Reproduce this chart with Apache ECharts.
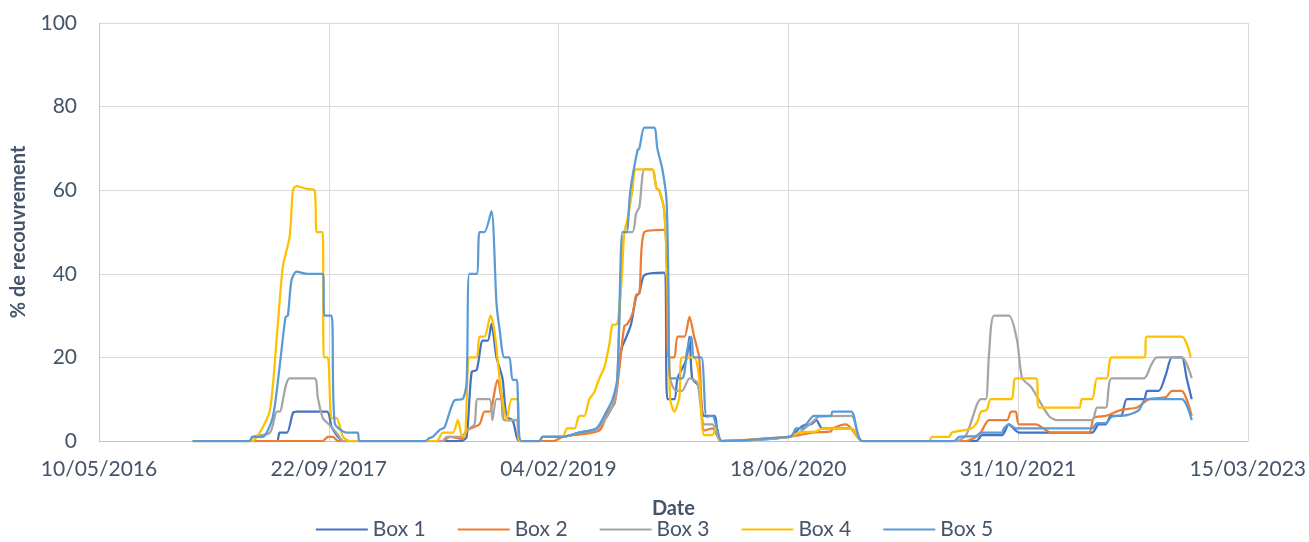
<!DOCTYPE html>
<html>
<head>
<meta charset="utf-8">
<script src="https://cdn.jsdelivr.net/npm/echarts@6/dist/echarts.min.js"></script>
<style>
  html, body { margin: 0; padding: 0; background: #fff; }
  #main { width: 1309px; height: 542px; }
</style>
</head>
<body>
<div id="main"></div>
<script>
const seriesNames = ["Box 1", "Box 2", "Box 3", "Box 4", "Box 5"];
const colors = ["#4472C4", "#ED7D31", "#A5A5A5", "#FFC000", "#5B9BD5"];

// x axis ticks (Excel date serials), y axis ticks
const xTicks = [42500, 43000, 43500, 44000, 44500, 45000];
const yTicks = [0, 20, 40, 60, 80, 100];

const box1 = [
  ["2016-11-30", 0], ["2017-06-01", 0], ["2017-06-07", 2], ["2017-06-23", 2], ["2017-07-06", 6.7], ["2017-07-14", 7],
  ["2017-09-18", 7], ["2017-09-28", 3.4], ["2017-10-12", 1], ["2017-10-23", 0],
  ["2018-07-08", 0], ["2018-07-19", 1], ["2018-07-30", 16.5], ["2018-08-10", 17], ["2018-08-23", 24], ["2018-09-03", 24],
  ["2018-09-11", 28], ["2018-09-22", 20], ["2018-10-05", 15], ["2018-10-14", 5.8], ["2018-10-27", 5], ["2018-11-11", 0],
  ["2018-12-25", 0], ["2018-12-31", 1], ["2019-02-02", 1],
  ["2019-02-13", 1], ["2019-03-21", 2], ["2019-04-30", 3], ["2019-05-21", 6], ["2019-06-06", 9.8], ["2019-06-21", 22],
  ["2019-07-02", 25], ["2019-07-12", 28], ["2019-07-23", 34.5], ["2019-07-30", 35.5], ["2019-08-10", 39.7], ["2019-09-22", 40.3],
  ["2019-09-29", 10], ["2019-10-14", 10], ["2019-10-21", 15], ["2019-11-09", 19.4], ["2019-11-16", 25], ["2019-11-22", 15],
  ["2019-12-07", 13], ["2019-12-18", 6], ["2020-01-09", 6], ["2020-01-24", 0],
  ["2020-06-20", 1], ["2020-07-12", 3], ["2020-07-23", 3.8], ["2020-08-07", 4], ["2020-08-18", 5], ["2020-08-31", 3],
  ["2020-11-02", 3], ["2020-11-26", 0],
  ["2021-08-01", 0], ["2021-08-14", 1.4], ["2021-09-26", 1.4], ["2021-10-11", 4], ["2021-11-02", 2], ["2022-04-10", 2],
  ["2022-04-25", 4], ["2022-05-10", 4], ["2022-05-21", 6], ["2022-06-12", 6], ["2022-06-25", 10], ["2022-08-01", 10],
  ["2022-08-08", 12], ["2022-09-02", 12], ["2022-09-18", 16], ["2022-10-01", 20], ["2022-10-22", 20], ["2022-11-02", 15],
  ["2022-11-13", 10]
];

const box2 = [
  ["2016-11-30", 0], ["2017-09-09", 0], ["2017-09-20", 1], ["2017-10-01", 1], ["2017-10-12", 0],
  ["2018-05-28", 0], ["2018-06-12", 1], ["2018-07-08", 0.5], ["2018-07-21", 2.6], ["2018-08-16", 4], ["2018-08-27", 7],
  ["2018-09-07", 7], ["2018-09-24", 14.6], ["2018-10-03", 10], ["2018-10-09", 5], ["2018-11-05", 5], ["2018-11-11", 0],
  ["2019-01-25", 0], ["2019-02-13", 1], ["2019-05-04", 2.5], ["2019-05-21", 6.7], ["2019-06-06", 9], ["2019-06-16", 17],
  ["2019-06-27", 27.4], ["2019-07-04", 28], ["2019-07-15", 30.5], ["2019-07-23", 35], ["2019-07-30", 35.3], ["2019-08-10", 50],
  ["2019-09-22", 50.5], ["2019-10-01", 20], ["2019-10-14", 20], ["2019-10-21", 25], ["2019-11-05", 25], ["2019-11-16", 29.7],
  ["2019-11-26", 25], ["2019-12-07", 20], ["2019-12-18", 2.5], ["2020-01-05", 3], ["2020-01-24", 0],
  ["2020-06-20", 1], ["2020-07-12", 1.4], ["2020-08-09", 2], ["2020-09-19", 2.3], ["2020-09-22", 3], ["2020-10-22", 4],
  ["2020-11-02", 3], ["2020-11-26", 0],
  ["2021-07-10", 0], ["2021-08-01", 1], ["2021-08-11", 2], ["2021-08-29", 5], ["2021-10-07", 5], ["2021-10-16", 7],
  ["2021-10-26", 7], ["2021-11-02", 4], ["2021-12-09", 4], ["2022-01-11", 2], ["2022-04-03", 2], ["2022-04-14", 5.5],
  ["2022-05-10", 6], ["2022-06-14", 7.5], ["2022-07-17", 8], ["2022-08-12", 10], ["2022-09-18", 10.5], ["2022-10-01", 12],
  ["2022-10-22", 12], ["2022-11-13", 6]
];

const box3 = [
  ["2016-11-30", 0], ["2017-04-03", 0], ["2017-04-10", 1], ["2017-05-17", 2], ["2017-06-01", 7], ["2017-06-07", 7],
  ["2017-06-29", 15], ["2017-08-22", 15], ["2017-08-29", 10.5], ["2017-09-09", 5.5], ["2017-09-24", 3.8], ["2017-10-12", 1.5],
  ["2017-10-23", 0],
  ["2018-05-28", 0], ["2018-06-05", 1], ["2018-07-08", 1], ["2018-07-19", 2.6], ["2018-08-05", 4], ["2018-08-12", 10],
  ["2018-09-07", 10], ["2018-09-13", 5], ["2018-09-22", 10], ["2018-10-03", 10], ["2018-10-09", 5], ["2018-11-05", 5],
  ["2018-11-11", 0],
  ["2018-12-25", 0], ["2018-12-31", 1], ["2019-02-02", 1], ["2019-02-13", 1], ["2019-03-21", 2], ["2019-04-30", 3],
  ["2019-05-21", 6], ["2019-06-06", 9.8], ["2019-06-12", 15], ["2019-06-27", 50], ["2019-07-15", 50], ["2019-07-23", 54.5],
  ["2019-07-30", 56], ["2019-08-10", 65], ["2019-08-27", 65], ["2019-09-05", 60.5], ["2019-09-11", 60], ["2019-09-22", 55],
  ["2019-09-29", 39], ["2019-10-05", 15], ["2019-10-18", 12], ["2019-10-31", 12], ["2019-11-16", 15], ["2019-12-03", 14],
  ["2019-12-18", 4], ["2020-01-05", 4], ["2020-01-24", 0],
  ["2020-06-20", 1], ["2020-07-12", 2], ["2020-08-09", 4.5], ["2020-08-24", 5.8], ["2020-11-02", 6], ["2020-11-26", 0],
  ["2021-06-18", 0], ["2021-07-10", 1.4], ["2021-08-11", 10], ["2021-08-22", 10], ["2021-08-29", 21], ["2021-09-09", 30],
  ["2021-10-11", 30], ["2021-10-29", 24], ["2021-11-09", 15], ["2021-11-28", 13], ["2022-01-06", 6], ["2022-01-24", 5],
  ["2022-04-10", 5], ["2022-04-21", 8], ["2022-05-10", 8], ["2022-05-23", 15], ["2022-08-01", 15], ["2022-08-16", 18],
  ["2022-08-29", 20], ["2022-10-22", 20], ["2022-11-13", 15]
];

const box4 = [
  ["2016-11-30", 0], ["2017-04-08", 0], ["2017-04-25", 2], ["2017-05-17", 7.4], ["2017-06-01", 25], ["2017-06-14", 41.6],
  ["2017-06-29", 49], ["2017-07-06", 60], ["2017-07-14", 61], ["2017-08-05", 60.3], ["2017-08-22", 60], ["2017-08-27", 50],
  ["2017-09-09", 50], ["2017-09-11", 20], ["2017-09-20", 20], ["2017-09-28", 5.5], ["2017-10-09", 5.5], ["2017-10-23", 1],
  ["2017-11-07", 0],
  ["2018-05-15", 0], ["2018-05-28", 2], ["2018-06-19", 2], ["2018-06-30", 5], ["2018-07-08", 1.4], ["2018-07-15", 1],
  ["2018-07-25", 20], ["2018-08-10", 20], ["2018-08-16", 25], ["2018-08-27", 25], ["2018-09-09", 30], ["2018-09-18", 26],
  ["2018-09-29", 14.6], ["2018-10-05", 9.8], ["2018-10-14", 5], ["2018-10-25", 10], ["2018-11-07", 10], ["2018-11-11", 0],
  ["2018-12-25", 0], ["2018-12-31", 1], ["2019-02-02", 1],
  ["2019-02-13", 1], ["2019-02-23", 3], ["2019-03-11", 3], ["2019-03-21", 6], ["2019-04-01", 6], ["2019-04-12", 10],
  ["2019-04-23", 11.7], ["2019-05-04", 15], ["2019-05-15", 17.7], ["2019-05-26", 23.4], ["2019-06-01", 27.7], ["2019-06-12", 28],
  ["2019-06-21", 37.8], ["2019-06-27", 49.8], ["2019-07-04", 53], ["2019-07-15", 60], ["2019-07-23", 65], ["2019-08-27", 65],
  ["2019-09-05", 60.5], ["2019-09-11", 60], ["2019-09-22", 55], ["2019-09-29", 39], ["2019-10-05", 10], ["2019-10-14", 7],
  ["2019-10-25", 10.5], ["2019-10-31", 20], ["2019-11-26", 20], ["2019-12-07", 15], ["2019-12-18", 1.4], ["2020-01-05", 1.4],
  ["2020-01-13", 3.3], ["2020-01-24", 0],
  ["2020-06-20", 1], ["2020-07-12", 2], ["2020-08-18", 2.3], ["2020-08-31", 3], ["2020-11-02", 3], ["2020-11-26", 0],
  ["2021-04-20", 0], ["2021-04-27", 1], ["2021-06-03", 1], ["2021-06-09", 2], ["2021-07-21", 3], ["2021-08-03", 4.5],
  ["2021-08-11", 7], ["2021-08-24", 7.4], ["2021-09-02", 10], ["2021-10-16", 10], ["2021-10-26", 15], ["2021-12-09", 15],
  ["2021-12-16", 8], ["2022-03-13", 8], ["2022-03-19", 10], ["2022-04-10", 10], ["2022-04-21", 15], ["2022-05-12", 15],
  ["2022-05-23", 20], ["2022-08-01", 20], ["2022-08-08", 25], ["2022-10-22", 25], ["2022-11-11", 20]
];

const box5 = [
  ["2016-11-30", 0], ["2017-04-03", 0], ["2017-04-08", 1], ["2017-05-01", 1], ["2017-05-23", 5.7], ["2017-06-07", 17.7],
  ["2017-06-20", 29.7], ["2017-06-25", 30], ["2017-07-03", 38.5], ["2017-07-14", 40.5], ["2017-08-05", 40], ["2017-09-09", 40],
  ["2017-09-13", 30], ["2017-09-28", 30], ["2017-10-05", 4.3], ["2017-10-31", 2], ["2017-11-24", 2], ["2017-11-28", 0],
  ["2018-04-20", 0], ["2018-04-29", 0.7], ["2018-05-06", 1], ["2018-05-21", 2.6], ["2018-06-01", 3.3], ["2018-06-23", 9.8],
  ["2018-07-10", 10], ["2018-07-19", 14], ["2018-07-25", 40], ["2018-08-10", 40], ["2018-08-16", 50], ["2018-08-27", 50],
  ["2018-09-11", 55], ["2018-09-22", 33], ["2018-09-29", 26.5], ["2018-10-09", 20], ["2018-10-20", 20], ["2018-10-27", 14.6],
  ["2018-11-05", 14.6], ["2018-11-15", 0],
  ["2018-12-25", 0], ["2018-12-31", 1], ["2019-02-02", 1],
  ["2019-02-13", 1], ["2019-03-21", 2], ["2019-04-27", 3], ["2019-05-19", 7], ["2019-06-01", 9.8], ["2019-06-12", 15],
  ["2019-06-23", 50], ["2019-07-02", 50], ["2019-07-10", 59.6], ["2019-07-26", 69.6], ["2019-07-30", 70], ["2019-08-10", 75],
  ["2019-08-31", 75], ["2019-09-07", 70], ["2019-09-18", 65], ["2019-09-27", 57.7], ["2019-10-01", 39], ["2019-10-05", 15],
  ["2019-10-31", 15], ["2019-11-11", 21.8], ["2019-11-20", 25], ["2019-11-26", 20], ["2019-12-12", 20], ["2019-12-23", 5.8],
  ["2020-01-05", 6], ["2020-01-15", 3], ["2020-01-26", 0],
  ["2020-06-20", 1], ["2020-06-27", 1.4], ["2020-07-05", 3], ["2020-07-16", 3], ["2020-07-27", 4], ["2020-08-13", 6],
  ["2020-09-19", 6], ["2020-09-22", 7], ["2020-11-02", 7], ["2020-11-26", 0],
  ["2021-06-14", 0], ["2021-06-25", 1], ["2021-08-01", 1.2], ["2021-08-11", 2], ["2021-09-26", 2], ["2021-09-30", 3],
  ["2021-10-11", 4], ["2021-10-26", 3], ["2022-04-10", 3], ["2022-04-21", 4.3], ["2022-05-10", 4.3], ["2022-05-23", 5.8],
  ["2022-06-25", 6.2], ["2022-07-21", 7.4], ["2022-08-05", 10], ["2022-10-22", 10], ["2022-11-13", 5]
];

const allBoxes = [box1, box2, box3, box4, box5];

// date string -> Excel serial number (days since 1899-12-30)
const EPOCH = Date.UTC(1899, 11, 30);
function toSerial(s) {
  const p = s.split("-");
  return (Date.UTC(+p[0], +p[1] - 1, +p[2]) - EPOCH) / 86400000;
}
function pad(n) { return n < 10 ? "0" + n : "" + n; }
function serialLabel(v) {
  const d = new Date(EPOCH + v * 86400000);
  return pad(d.getUTCDate()) + "/" + pad(d.getUTCMonth() + 1) + "/" + d.getUTCFullYear();
}

const txt = "#44546A";
const font = "Lato, 'Open Sans', sans-serif";

var myChart = echarts.init(document.getElementById("main"));

option = {
  animation: false,
  textStyle: { fontFamily: font },
  grid: { left: 99, right: 61, top: 23, bottom: 101 },
  legend: {
    top: 519,
    left: "center",
    padding: 0,
    itemWidth: 52,
    itemHeight: 14,
    itemGap: 32,
    icon: "path://M0,6 L52,6 L52,8 L0,8 Z",
    textStyle: { color: txt, fontSize: 21, fontFamily: font },
    data: seriesNames
  },
  xAxis: {
    type: "value",
    min: xTicks[0],
    max: xTicks[xTicks.length - 1],
    interval: xTicks[1] - xTicks[0],
    name: "Date",
    nameLocation: "middle",
    nameGap: 58,
    nameTextStyle: { color: txt, fontSize: 20, fontWeight: "bold", fontFamily: font },
    axisLine: { show: true, lineStyle: { color: "#BFC6D1", width: 1 } },
    axisTick: { show: false },
    axisLabel: {
      color: txt, fontSize: 21, margin: 18, fontFamily: font,
      showMinLabel: true, showMaxLabel: true,
      formatter: serialLabel
    },
    splitLine: { show: true, lineStyle: { color: "#D9D9D9", width: 1 } }
  },
  yAxis: {
    type: "value",
    min: yTicks[0],
    max: yTicks[yTicks.length - 1],
    interval: yTicks[1] - yTicks[0],
    name: "% de recouvrement",
    nameLocation: "middle",
    nameGap: 70,
    nameTextStyle: { color: txt, fontSize: 20, fontWeight: "bold", fontFamily: font },
    axisLine: { show: true, lineStyle: { color: "#BFC6D1", width: 1 } },
    axisTick: { show: false },
    axisLabel: { color: txt, fontSize: 21, margin: 22, fontFamily: font },
    splitLine: { show: true, lineStyle: { color: "#D9D9D9", width: 1 } }
  },
  series: seriesNames.map(function (name, i) {
    return {
      name: name,
      type: "line",
      symbol: "none",
      smooth: 0.25,
      color: colors[i],
      lineStyle: { width: 2.25, color: colors[i] },
      data: allBoxes[i].map(function (p) { return [toSerial(p[0]), p[1]]; })
    };
  })
};

myChart.setOption(option);
</script>
</body>
</html>
